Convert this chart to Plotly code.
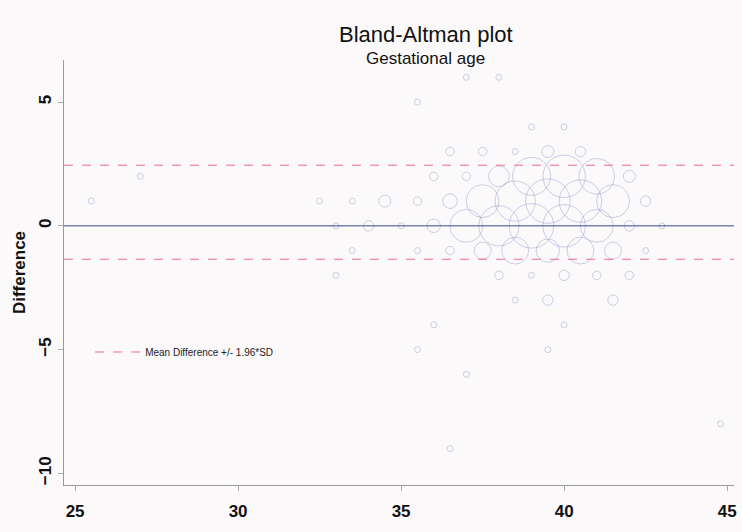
import plotly.graph_objects as go
import numpy as np

# ---- data ----
mean_ga = [25.5, 27, 32.5, 33.5, 34.5, 35.5, 36.5, 37.5, 38.5, 39.5, 40.5, 41.5, 42.5,
           36, 37, 38, 39, 40, 41, 42,
           33, 34, 35, 36, 37, 38, 39, 40, 41, 42, 43,
           33.5, 35.5, 36.5, 37.5, 38.5, 39.5, 40.5, 41.5, 42.5,
           33, 38, 39, 40, 41, 42,
           38.5, 39.5, 41.5,
           36.5, 37.5, 38.5, 39.5, 40.5,
           39, 40, 36, 40, 35.5, 39.5, 35.5, 37, 38, 37, 36.5, 44.8]
diff_ga = [1, 2, 1, 1, 1, 1, 1, 1, 1, 1, 1, 1, 1,
           2, 2, 2, 2, 2, 2, 2,
           0, 0, 0, 0, 0, 0, 0, 0, 0, 0, 0,
           -1, -1, -1, -1, -1, -1, -1, -1, -1,
           -2, -2, -2, -2, -2, -2,
           -3, -3, -3,
           3, 3, 3, 3, 3,
           4, 4, -4, -4, -5, -5, 5, 6, 6, -6, -9, -8]
count = [1, 1, 1, 1, 4, 2, 6, 30, 45, 55, 50, 30, 3,
         2, 2, 12, 40, 50, 35, 4,
         1, 3, 1, 5, 30, 45, 55, 50, 30, 3, 1,
         1, 1, 2, 8, 20, 15, 20, 8, 1,
         1, 2, 1, 3, 2, 2,
         1, 3, 3,
         2, 2, 1, 4, 3,
         1, 1, 1, 1, 1, 1, 1, 1, 1, 1, 1, 1]
mean_diff = 0.0
upper_loa = 2.45
lower_loa = -1.35
x_span = [24.66, 45.21]
x_ticks = [25, 30, 35, 40, 45]
y_ticks = [-10, -5, 0, 5]

sizes = [6 * np.sqrt(c) for c in count]
pink = "rgb(238,105,150)"

fig = go.Figure()
fig.add_trace(go.Scatter(
    x=mean_ga, y=diff_ga, mode="markers", showlegend=False,
    marker=dict(size=sizes, color="rgba(0,0,0,0)",
                line=dict(color="rgba(110,130,195,0.5)", width=1)),
))
fig.add_trace(go.Scatter(
    x=x_span, y=[mean_diff, mean_diff], mode="lines", showlegend=False,
    line=dict(color="rgb(55,75,140)", width=1),
))
fig.add_trace(go.Scatter(
    x=x_span, y=[upper_loa, upper_loa], mode="lines",
    name="Mean Difference +/- 1.96*SD",
    line=dict(color=pink, width=1, dash="dash"),
))
fig.add_trace(go.Scatter(
    x=x_span, y=[lower_loa, lower_loa], mode="lines", showlegend=False,
    line=dict(color=pink, width=1, dash="dash"),
))

fig.update_layout(
    width=742, height=532,
    margin=dict(l=64, r=8, t=60, b=47),
    paper_bgcolor="rgb(252,249,251)",
    plot_bgcolor="rgb(252,249,251)",
    font=dict(family="Liberation Sans, Arial, sans-serif", color="#111"),
    legend=dict(x=0.039, y=0.313, xanchor="left", yanchor="middle",
                itemwidth=45,
                bgcolor="rgba(0,0,0,0)", font=dict(size=10, color="#222")),
    annotations=[
        dict(text="Bland-Altman plot", xref="paper", yref="paper",
             x=0.54, y=1 + (60 - 35) / 425, xanchor="center", yanchor="middle",
             showarrow=False, font=dict(size=22, color="#111")),
        dict(text="Gestational age", xref="paper", yref="paper",
             x=0.54, y=1 + (60 - 58) / 425, xanchor="center", yanchor="middle",
             showarrow=False, font=dict(size=17, color="#111")),
    ],
)
fig.update_xaxes(
    range=x_span, tickvals=x_ticks, showgrid=False, zeroline=False,
    showline=True, linecolor="#999", linewidth=1, automargin=False,
    ticks="outside", ticklen=5, tickcolor="#aaa", ticklabelstandoff=6,
    tickfont=dict(size=17, color="#111", weight="bold"),
)
fig.update_yaxes(
    range=[-10.47, 6.7], tickvals=y_ticks, showgrid=False, zeroline=False,
    showline=True, linecolor="#999", linewidth=1, automargin=False,
    ticks="outside", ticklen=5, tickcolor="#aaa", tickangle=-90,
    ticklabelstandoff=0,
    tickfont=dict(size=17, color="#111", weight="bold"),
    title=dict(text="Difference", font=dict(size=17, color="#111", weight="bold"), standoff=6),
)

fig.write_html("out.html", config={"displayModeBar": False},
               post_script="document.body.style.margin='0';")
